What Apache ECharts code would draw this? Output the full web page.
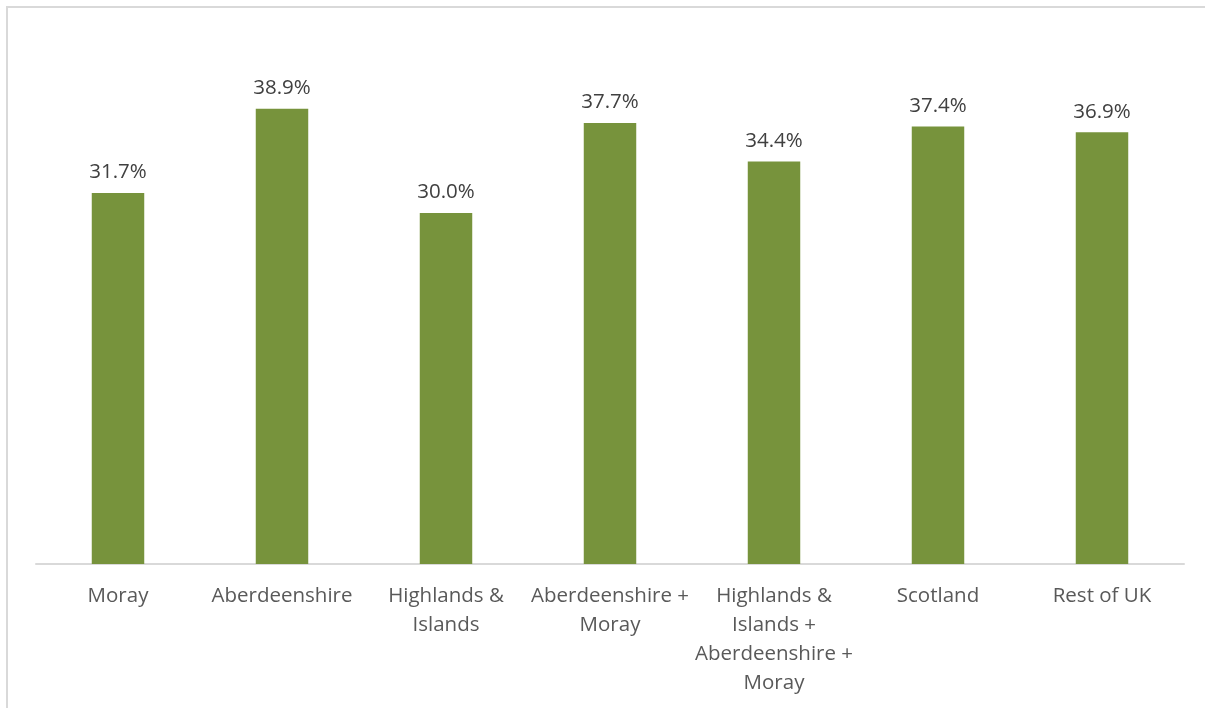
<!DOCTYPE html>
<html>
<head>
<meta charset="utf-8">
<script src="https://cdn.jsdelivr.net/npm/echarts@6/dist/echarts.min.js"></script>
<style>
  html, body { margin: 0; padding: 0; background: #fff; overflow: hidden; }
  #frame { position: absolute; left: 6px; top: 6px; width: 1210px; height: 720px;
           border: 2px solid #d9d9d9; box-sizing: border-box; }
  #chart { position: absolute; left: 0; top: 0; width: 1205px; height: 708px; }
</style>
</head>
<body>
<div id="frame"></div>
<div id="chart"></div>
<script>
// Share by region, percent
const categories = [
  'Moray',
  'Aberdeenshire',
  'Highlands &\nIslands',
  'Aberdeenshire +\nMoray',
  'Highlands &\nIslands +\nAberdeenshire +\nMoray',
  'Scotland',
  'Rest of UK'
];
const shares = [31.7, 38.9, 30.0, 37.7, 34.4, 37.4, 36.9];

const chart = echarts.init(document.getElementById('chart'), null, { renderer: 'canvas' });
chart.setOption({
  animation: false,
  grid: { left: 36, right: 21, top: 37.5, bottom: 144, containLabel: false },
  xAxis: {
    type: 'category',
    data: categories,
    axisLine: { lineStyle: { color: '#d9d9d9', width: 2 } },
    axisTick: { show: false },
    axisLabel: {
      interval: 0,
      margin: 18,
      color: '#595959',
      fontFamily: 'Open Sans',
      fontSize: 20.5,
      lineHeight: 29,
      verticalAlign: 'top'
    }
  },
  yAxis: {
    type: 'value',
    min: 0,
    max: 45,
    interval: 5,
    show: false
  },
  series: [{
    type: 'bar',
    data: shares,
    barWidth: '32%',
    itemStyle: { color: '#77933C' },
    label: {
      show: true,
      position: 'top',
      distance: 10,
      color: '#404040',
      fontFamily: 'Open Sans',
      fontSize: 20.5,
      formatter: p => p.value.toFixed(1) + '%'
    }
  }]
});
</script>
</body>
</html>
